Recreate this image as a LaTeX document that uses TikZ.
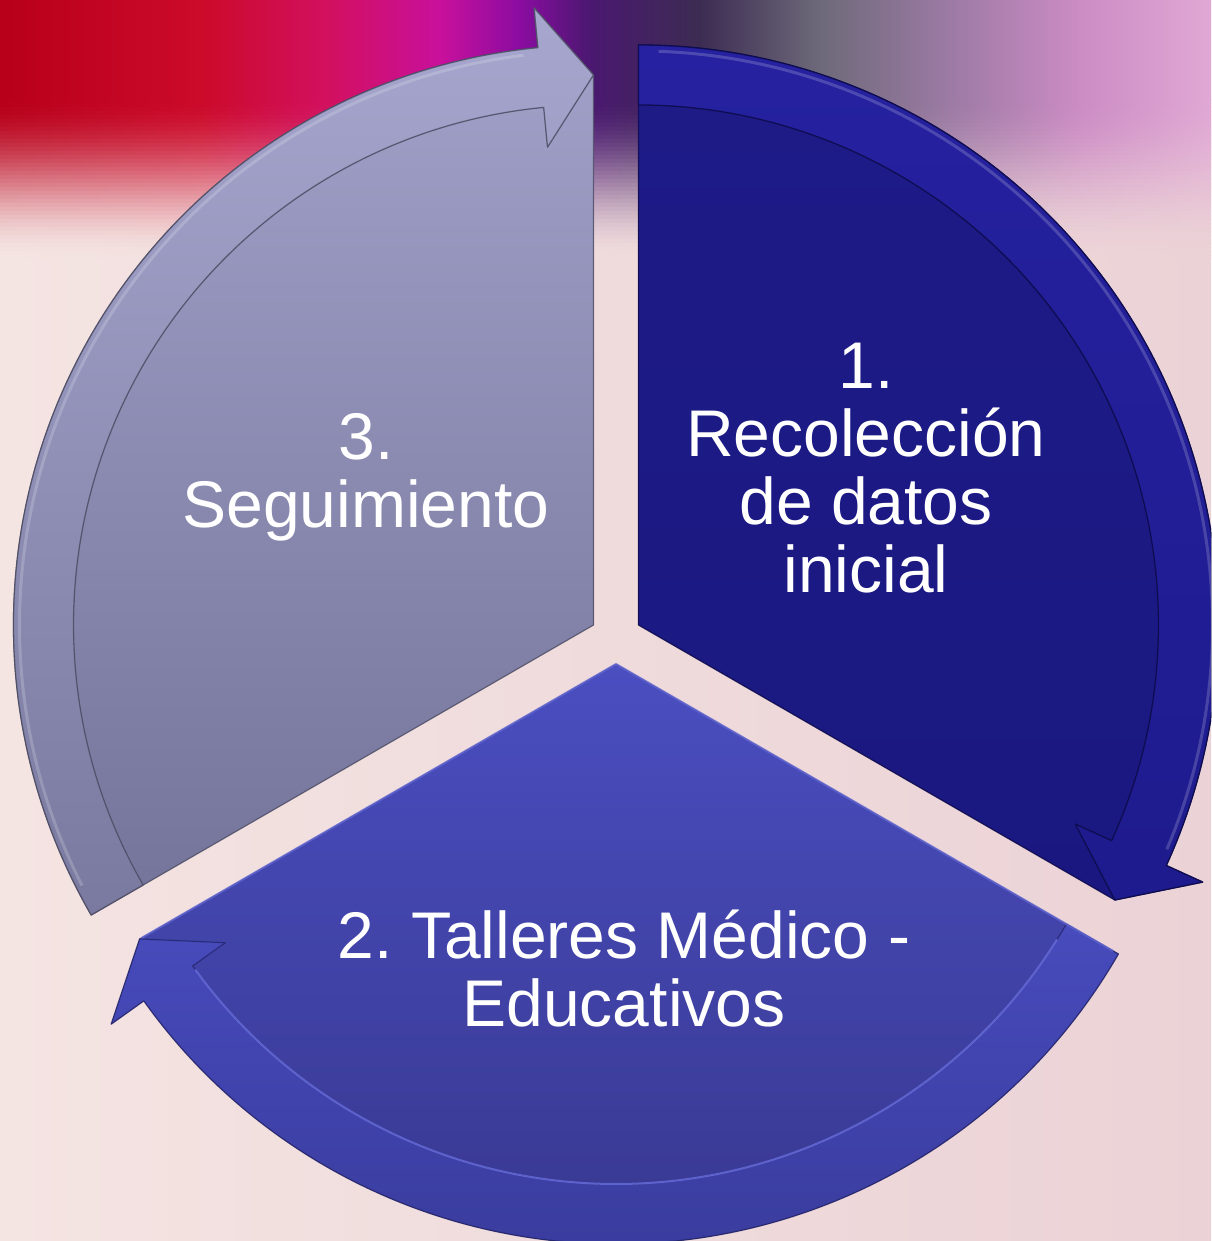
\documentclass[tikz,border=0pt]{standalone}
\usepackage{fontspec}
\setmainfont{Liberation Sans}
\frenchspacing
\definecolor{bgA}{HTML}{F4E4E2}
\definecolor{bgB}{HTML}{EBD2D6}
\definecolor{sOneBody}{HTML}{1E1B88}
\definecolor{sOneBodyB}{HTML}{1A1880}
\definecolor{sOneBand}{HTML}{2521A0}
\definecolor{sOneBandB}{HTML}{1E1B8E}
\definecolor{sOneEdge}{HTML}{0E0C4E}
\definecolor{sTwoTop}{HTML}{4A4EC0}
\definecolor{sTwoBot}{HTML}{383890}
\definecolor{sTwoBand}{HTML}{474BBC}
\definecolor{sTwoBandB}{HTML}{3A3C9E}
\definecolor{sTwoEdge}{HTML}{24246A}
\definecolor{sTwoHi}{HTML}{6A70E0}
\definecolor{sThrTop}{HTML}{A2A2CA}
\definecolor{sThrBot}{HTML}{74749A}
\definecolor{sThrBand}{HTML}{A6A6CE}
\definecolor{sThrBandB}{HTML}{7A7AA0}
\definecolor{sThrEdge}{HTML}{4E4E66}
% photo colours across the top, and the background behind each stop
\definecolor{ph0}{RGB}{184,0,26}
\definecolor{ph1}{RGB}{204,10,42}
\definecolor{ph2}{RGB}{210,16,96}
\definecolor{ph3}{RGB}{200,16,156}
\definecolor{ph4}{RGB}{138,12,160}
\definecolor{ph5}{RGB}{74,24,112}
\definecolor{ph6}{RGB}{60,44,82}
\definecolor{ph7}{RGB}{110,106,122}
\definecolor{ph8}{RGB}{156,122,164}
\definecolor{ph9}{RGB}{204,140,196}
\definecolor{ph10}{RGB}{224,168,212}
\colorlet{bk0}{bgA}
\colorlet{bk1}{bgB!16.6!bgA}
\colorlet{bk2}{bgB!27.2!bgA}
\colorlet{bk3}{bgB!36.4!bgA}
\colorlet{bk4}{bgB!43!bgA}
\colorlet{bk5}{bgB!48.8!bgA}
\colorlet{bk6}{bgB!57.8!bgA}
\colorlet{bk7}{bgB!67.8!bgA}
\colorlet{bk8}{bgB!78.4!bgA}
\colorlet{bk9}{bgB!89.2!bgA}
\colorlet{bk10}{bgB}
\tikzset{
  lbl/.style={text=white, align=center, inner sep=0pt, font=\fontsize{66}{68}\selectfont},
  segline/.style={line width=1.3pt, line join=round},
  hiline/.style={line width=3pt, white, opacity=0.18}
}
\newcommand\segR{580}
\newcommand\segRi{520}
\newcommand\segRm{550}
\newcommand\segW{70}
\newcommand\segH{5.5}
% #1 start angle (tail), #2 end angle (head)
\newcommand\segbody[2]{(0,0) -- (#1:\segR) arc[start angle=#1, end angle={#2+\segH}, radius=\segR] -- ({#2+\segH}:{\segRm+\segW}) -- (#2:\segRm) -- cycle}
\newcommand\segband[2]{(#1:\segR) arc[start angle=#1, end angle={#2+\segH}, radius=\segR] -- ({#2+\segH}:{\segRm+\segW}) -- (#2:\segRm) -- ({#2+\segH}:{\segRm-\segW}) -- ({#2+\segH}:\segRi) arc[start angle={#2+\segH}, end angle=#1, radius=\segRi] -- cycle}
\newcommand\mkphoto[2]{% #1 name, #2 percent of photo colour
 \pgfdeclarehorizontalshading{#1}{100bp}{%
 color(0bp)=(ph0!#2!bk0); color(25bp)=(ph0!#2!bk0);
 color(33.3bp)=(ph1!#2!bk1);
 color(38.6bp)=(ph2!#2!bk2);
 color(43.2bp)=(ph3!#2!bk3);
 color(46.5bp)=(ph4!#2!bk4);
 color(49.4bp)=(ph5!#2!bk5);
 color(53.9bp)=(ph6!#2!bk6);
 color(58.9bp)=(ph7!#2!bk7);
 color(64.2bp)=(ph8!#2!bk8);
 color(69.6bp)=(ph9!#2!bk9);
 color(75bp)=(ph10!#2!bk10);
 color(100bp)=(ph10!#2!bk10)}}
\begin{document}
\begin{tikzpicture}[x=1pt,y=1pt]
\clip (0,0) rectangle (1211,1241);
% background
\fill[left color=bgA, right color=bgB] (0,0) rectangle (1211,1241);
\mkphoto{photofull}{100}
\fill[shading=photofull] (0,1140) rectangle (1211,1241);
\foreach \i in {0,...,39}{
  \pgfmathsetmacro\sa{(\i+0.5)/40}
  \pgfmathsetmacro\pc{100*(1-\sa*\sa*(3-2*\sa))}
  \mkphoto{photostrip\i}{\pc}
  \fill[shading=photostrip\i] (0,{1141-4*\i-4}) rectangle (1211,{1141-4*\i+0.6});
}
% segment 3 (upper left)
\begin{scope}[shift={(593.5,616)}]
  \fill[top color=sThrTop, bottom color=sThrBot] \segbody{210}{90};
  \draw[segline, sThrEdge, opacity=0.7] \segbody{210}{90};
  \fill[top color=sThrBand, bottom color=sThrBandB] \segband{210}{90};
  \draw[segline, sThrEdge, opacity=0.8] \segband{210}{90};
  \draw[hiline] (207:574) arc[start angle=207, end angle=97, radius=574];
\end{scope}
% segment 1 (right)
\begin{scope}[shift={(638.5,616)}]
  \fill[top color=sOneBody, bottom color=sOneBodyB] \segbody{90}{-30};
  \draw[segline, sOneEdge, opacity=0.8] \segbody{90}{-30};
  \fill[top color=sOneBand, bottom color=sOneBandB] \segband{90}{-30};
  \draw[segline, sOneEdge, opacity=0.9] \segband{90}{-30};
  \draw[hiline] (88:574) arc[start angle=88, end angle=-23, radius=574];
\end{scope}
% segment 2 (bottom)
\begin{scope}[shift={(616,577)}]
  \fill[top color=sTwoTop, bottom color=sTwoBot] \segbody{-30}{-150};
  \draw[segline, sTwoEdge, opacity=0.5] \segbody{-30}{-150};
  \fill[top color=sTwoBand, bottom color=sTwoBandB] \segband{-30}{-150};
  \draw[segline, sTwoEdge, opacity=0.6] \segband{-30}{-150};
  \draw[line width=2pt, sTwoHi, opacity=0.8] (-32:\segRi) arc[start angle=-32, end angle=-144, radius=\segRi];
  \draw[line width=2pt, sTwoHi, opacity=0.7] (0,0) -- (-30:574);
  \draw[line width=2pt, sTwoHi, opacity=0.7] (0,0) -- (-150:548);
\end{scope}
% labels
\node[lbl, anchor=north] (t1) at (866,898) {1.\\Recolección\\de datos\\inicial};
\node[lbl, anchor=north] (t3) at (366,828) {3.\\Seguimiento};
\node[lbl, anchor=north] (t2) at (624,331) {2. Talleres Médico -\\Educativos};
\end{tikzpicture}
\end{document}
